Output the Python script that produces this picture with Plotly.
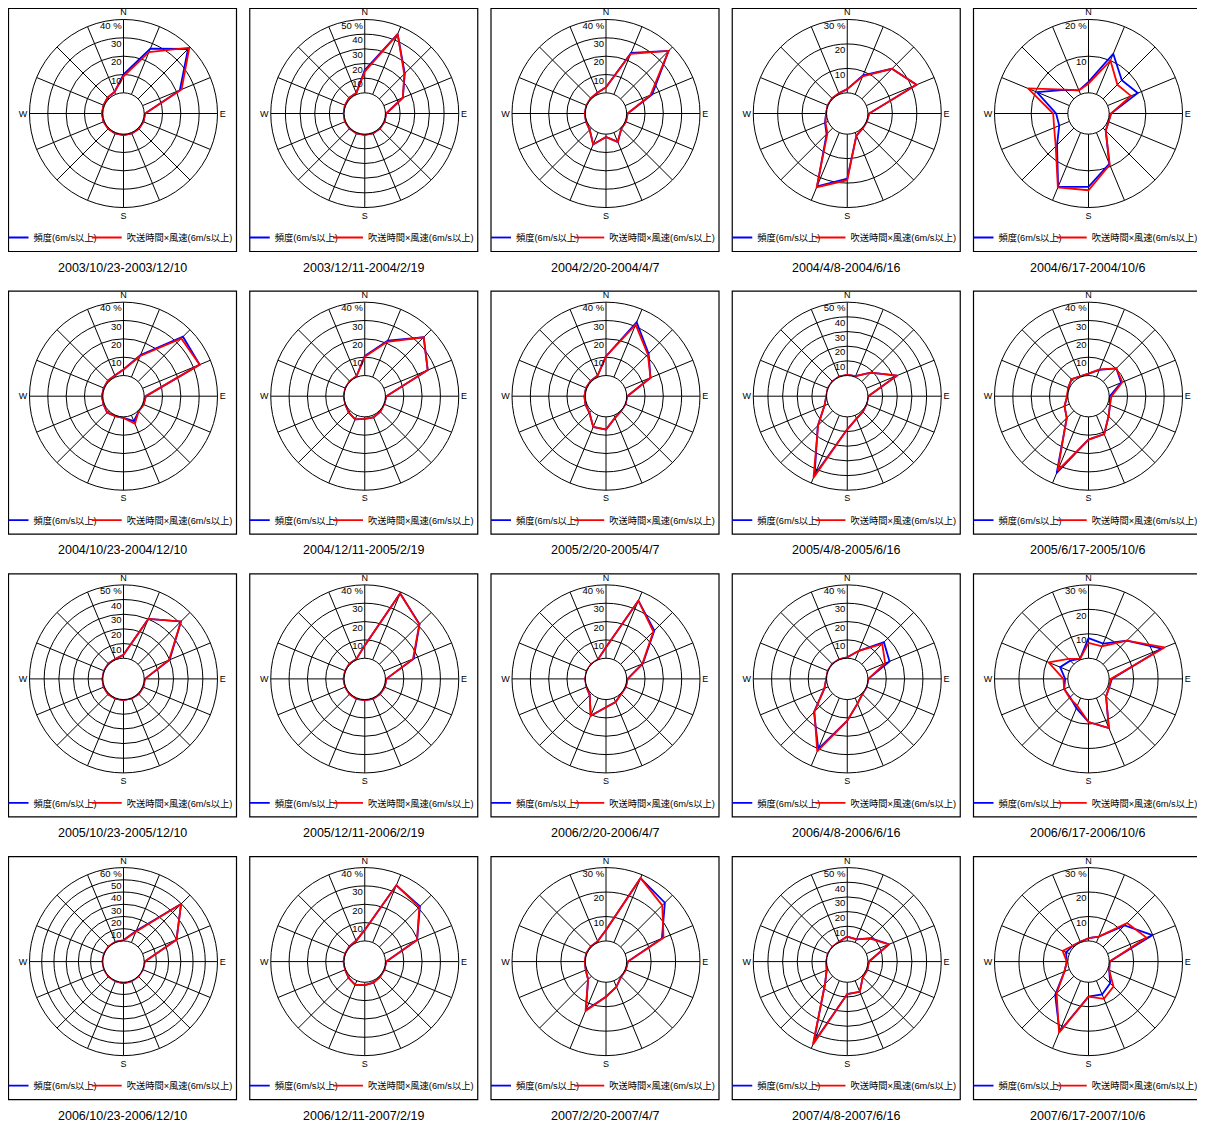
import plotly.graph_objects as go

# The page adds an 8 px body margin, so the figure is drawn 8 px in from the
# window corner; sizes/positions below are in figure pixels.
W, H = 1197, 1116

DIRS = ["N", "NNE", "NE", "ENE", "E", "ESE", "SE", "SSE",
        "S", "SSW", "SW", "WSW", "W", "WNW", "NW", "NNW"]
COMPASS = {"N": "N", "E": "E", "S": "S", "W": "W"}

NAME_FREQ = "頻度(6m/s以上)"
NAME_PROD = "吹送時間×風速(6m/s以上)"

PERIODS = [
    "2003/10/23-2003/12/10", "2003/12/11-2004/2/19", "2004/2/20-2004/4/7",
    "2004/4/8-2004/6/16", "2004/6/17-2004/10/6",
    "2004/10/23-2004/12/10", "2004/12/11-2005/2/19", "2005/2/20-2005/4/7",
    "2005/4/8-2005/6/16", "2005/6/17-2005/10/6",
    "2005/10/23-2005/12/10", "2005/12/11-2006/2/19", "2006/2/20-2006/4/7",
    "2006/4/8-2006/6/16", "2006/6/17-2006/10/6",
    "2006/10/23-2006/12/10", "2006/12/11-2007/2/19", "2007/2/20-2007/4/7",
    "2007/4/8-2007/6/16", "2007/6/17-2007/10/6",
]

RMAX = [40, 50, 40, 30, 20,
        40, 40, 40, 50, 40,
        50, 40, 40, 40, 30,
        60, 40, 30, 50, 30]

# blue: 頻度(6m/s以上) [%], red: 吹送時間×風速(6m/s以上) [%], order = DIRS
freq_01 = [10, 27, 38.5, 22, 0.5, 0.5, 0.5, 0.5, 0.5, 0.5, 0.5, 0.5, 0.5, 0.5, 1, 1.5]
prod_01 = [9, 25, 39.5, 23, 0.5, 0.5, 0.5, 0.5, 0.5, 0.5, 0.5, 0.5, 0.5, 0.5, 1, 1.5]
freq_02 = [15.5, 44.5, 24.5, 14, 0.5, 0.5, 0.5, 0.5, 0.5, 0.5, 0.5, 0.5, 0.3, 0.5, 1, 1]
prod_02 = [14.5, 44.5, 24, 14, 0.5, 0.5, 0.5, 0.5, 0.5, 0.5, 0.5, 0.5, 0.3, 0.5, 1, 1]
freq_03 = [3, 24.5, 37, 16, 0.5, 0.5, 0.5, 5.5, 1.5, 7, 1.3, 0.5, 0.3, 0.3, 0.5, 1]
prod_03 = [3, 24, 37, 15, 0.5, 0.5, 0.5, 5.5, 1.5, 7, 1.3, 0.5, 0.3, 0.3, 0.5, 1]
freq_04 = [1.5, 8.4, 17.4, 22.2, 0.5, 0.2, 0.3, 1.3, 18.2, 23.8, 3.5, 1.4, 0.2, 0.2, 0.3, 0.5]
prod_04 = [1.5, 8, 17.4, 22.2, 0.5, 0.2, 0.3, 1.3, 18.8, 24.2, 3, 1.2, 0.2, 0.2, 0.3, 0.5]
freq_05 = [3, 12, 7.2, 8.9, 0.5, 0.3, 1, 9.2, 14.4, 16, 6.5, 3, 3.2, 9.6, 3.5, 1.2]
prod_05 = [2.5, 10, 5.5, 6.9, 0.5, 0.3, 1, 9.5, 15.3, 16.2, 7, 4.5, 4, 12.2, 3.6, 1.2]
freq_06 = [3.3, 13, 34.6, 33.7, 0.9, 0.6, 0.4, 3.5, 0.6, 0.5, 1.3, 0.5, 0.5, 0.4, 0.7, 1]
prod_06 = [3.3, 12.5, 33.3, 33.7, 0.9, 0.6, 0.4, 5, 0.6, 0.5, 1.3, 0.5, 0.5, 0.4, 0.7, 1]
freq_07 = [10.6, 21.5, 34.2, 25.9, 0.5, 0.2, 0.7, 1.2, 1.1, 2.4, 1.2, 0.2, 0.2, 0.2, 0.3, 0.5]
prod_07 = [10.2, 20.8, 34.2, 25.9, 0.5, 0.2, 0.7, 1.2, 1.1, 2.4, 1.2, 0.2, 0.2, 0.2, 0.3, 0.5]
freq_08 = [10.5, 32.4, 21.6, 15, 0.3, 0.2, 0.2, 1.5, 6.9, 6.9, 1.5, 0.8, 0.5, 0.5, 0.5, 0.8]
prod_08 = [10.5, 31, 21, 15, 0.3, 0.2, 0.2, 1.5, 6.9, 6.9, 1.5, 0.8, 0.5, 0.5, 0.5, 0.8]
freq_09 = [0.5, 0.7, 8.6, 22.7, 0.2, 0.2, 0.9, 2.5, 8.5, 44, 14.3, 2.7, 0.2, 0.2, 0.2, 0.3]
prod_09 = [0.5, 0.7, 8.6, 22.7, 0.2, 0.2, 0.9, 2.5, 8.5, 46, 14, 2.7, 0.2, 0.2, 0.2, 0.3]
freq_10 = [1, 4.3, 10.2, 8, 0.3, 1.4, 4.2, 11.1, 12.4, 34, 5.5, 2.9, 0.2, 0.7, 1.8, 0.5]
prod_10 = [1, 4.6, 10.2, 8.7, 1.3, 1.4, 4.2, 11.1, 12.4, 32.7, 5.5, 2.9, 0.5, 0.7, 1.8, 0.5]
freq_11 = [2.3, 30.2, 41.3, 20, 0.5, 0.5, 0.5, 0.3, 0.3, 0.5, 0.7, 0.5, 0.3, 0.3, 0.5, 0.5]
prod_11 = [2.3, 30.2, 41.3, 19.5, 0.5, 0.5, 0.5, 0.3, 0.3, 0.5, 0.7, 0.5, 0.3, 0.3, 0.5, 0.5]
freq_12 = [7, 39.2, 31, 17.6, 0.5, 0.5, 0.5, 0.5, 0.3, 0.5, 0.5, 0.3, 0.3, 0.3, 0.5, 0.5]
prod_12 = [7, 39.2, 30.8, 17.2, 0.5, 0.5, 0.5, 0.5, 0.3, 0.5, 0.5, 0.3, 0.3, 0.3, 0.5, 0.5]
freq_13 = [6, 34.9, 26, 10.4, 0.5, 0.4, 0.4, 2.4, 4.2, 10.5, 1.3, 0.2, 0.1, 0.1, 0.2, 0.2]
prod_13 = [6, 34.9, 25.3, 10.2, 0.5, 0.4, 0.4, 2.4, 4.2, 10.5, 1.3, 0.2, 0.1, 0.1, 0.2, 0.2]
freq_14 = [0.5, 5.3, 17, 13.7, 0.2, 0.2, 0.4, 3.3, 11.5, 30, 14.4, 2.2, 0.2, 0.2, 0.3, 0.3]
prod_14 = [0.5, 5.3, 15.7, 11.1, 0.2, 0.2, 0.4, 3.3, 11.5, 31.5, 14, 2.2, 0.2, 0.2, 0.3, 0.3]
freq_15 = [8.2, 7.2, 13.7, 24, 1.1, 0.7, 1.7, 13.3, 9.2, 4.5, 2.2, 2.3, 1.1, 4.1, 2.1, 0.5]
prod_15 = [6.3, 6, 13.7, 25.2, 0.7, 0.7, 1.7, 13.3, 9.2, 3.5, 2.5, 2.3, 1.8, 9.2, 3.1, 0.5]
freq_16 = [0.5, 10.4, 49.7, 30, 0.5, 0.3, 0.3, 0.5, 0.8, 0.5, 0.5, 0.3, 0.3, 0.3, 0.5, 0.5]
prod_16 = [0.5, 9.5, 49.7, 30, 0.5, 0.3, 0.3, 0.5, 0.8, 0.5, 0.5, 0.3, 0.3, 0.3, 0.5, 0.5]
freq_17 = [6, 33.8, 31.3, 19.6, 0.5, 0.3, 0.5, 1.2, 1.5, 2.4, 1.2, 0.3, 0.3, 0.3, 0.5, 1]
prod_17 = [6, 33.8, 30.8, 19.6, 0.5, 0.3, 0.5, 1.2, 1.5, 2.4, 1.2, 0.3, 0.3, 0.3, 0.5, 1]
freq_18 = [4.5, 28.5, 25.6, 16.3, 0.5, 0.3, 0.3, 2.7, 5.9, 13, 1.9, 0.5, 0.2, 0.3, 0.3, 0.5]
prod_18 = [4.5, 28.5, 24.1, 17, 0.5, 0.3, 0.3, 2.7, 5.9, 13.4, 1.9, 0.5, 0.2, 0.3, 0.3, 0.5]
freq_19 = [3, 2.3, 8.5, 16.8, 0.7, 0.7, 0.9, 8.2, 8, 46, 7.3, 1.1, 0.2, 0.2, 0.2, 0.5]
prod_19 = [3, 2.3, 8, 16.5, 0.7, 0.7, 0.9, 8.2, 8, 47, 7.3, 1.1, 0.2, 0.2, 0.2, 0.5]
freq_20 = [1.1, 2.6, 12.5, 19.8, 0.2, 0.7, 4.1, 6.1, 5.9, 22.5, 10.8, 2.2, 0.4, 1.5, 0.7, 0.3]
prod_20 = [1.1, 2.6, 13.9, 17.2, 0.2, 0.7, 6, 8, 5.9, 23, 10, 2.2, 0.4, 3, 0.7, 0.3]

FREQ = [freq_01, freq_02, freq_03, freq_04, freq_05, freq_06, freq_07, freq_08,
        freq_09, freq_10, freq_11, freq_12, freq_13, freq_14, freq_15, freq_16,
        freq_17, freq_18, freq_19, freq_20]
PROD = [prod_01, prod_02, prod_03, prod_04, prod_05, prod_06, prod_07, prod_08,
        prod_09, prod_10, prod_11, prod_12, prod_13, prod_14, prod_15, prod_16,
        prod_17, prod_18, prod_19, prod_20]

FONT = "Liberation Sans, Noto Sans CJK JP, sans-serif"
LEG_FONT = "Liberation Sans Narrow, Liberation Sans, Noto Sans CJK JP, sans-serif"

fig = go.Figure()
layout = {}
shapes = []
annotations = []

COL_PITCH, ROW_PITCH = 241.25, 282.7
BOX_W, BOX_H = 228, 243
R = 94

for i in range(20):
    row, col = divmod(i, 5)
    bl = 0.5 + COL_PITCH * col
    bt = 0.5 + ROW_PITCH * row
    cx, cy = bl + 115, bt + 105
    pid = "polar" if i == 0 else f"polar{i + 1}"
    lid = "legend" if i == 0 else f"legend{i + 1}"

    for name, vals, color in ((NAME_FREQ, FREQ[i], "#0000ff"),
                              (NAME_PROD, PROD[i], "#ff0000")):
        fig.add_trace(go.Scatterpolar(
            r=vals + [vals[0]], theta=DIRS + [DIRS[0]], mode="lines",
            line=dict(color=color, width=1.8), name=name,
            subplot=pid, legend=lid, showlegend=True))

    rmax = RMAX[i]
    tv = [0] + list(range(10, rmax + 1, 10))
    # leading line break drops each label just below its ring, as in the original
    tt = [""] + ["<br>" + str(v) for v in tv[1:-1]] + [f"<br>{tv[-1]} %"]
    layout[pid] = dict(
        domain=dict(x=[(cx - R) / W, (cx + R) / W],
                    y=[1 - (cy + R) / H, 1 - (cy - R) / H]),
        hole=0.22,
        bgcolor="white",
        angularaxis=dict(
            type="category", categoryorder="array", categoryarray=DIRS,
            rotation=90, direction="clockwise",
            tickmode="array", tickvals=DIRS,
            ticktext=[COMPASS.get(d, "") for d in DIRS],
            ticks="", showgrid=True, gridcolor="black", gridwidth=1,
            showline=True, linecolor="black", linewidth=1,
            tickfont=dict(size=9, color="black", family=FONT)),
        radialaxis=dict(
            range=[0, rmax], tickmode="array", tickvals=tv, ticktext=tt,
            angle=90, side="counterclockwise", tickangle=90, ticks="",
            showline=False, showgrid=True, gridcolor="black", gridwidth=1,
            tickfont=dict(size=9.5, color="black", family=FONT)),
    )
    layout[lid] = dict(
        x=bl / W, y=1 - (bt + 229) / H, xanchor="left", yanchor="middle",
        orientation="h", bgcolor="rgba(0,0,0,0)", borderwidth=0,
        itemwidth=30, tracegroupgap=0, indentation=-15,
        font=dict(size=9.25, color="black", family=LEG_FONT))

    shapes.append(dict(type="rect", xref="paper", yref="paper",
                       x0=bl / W, x1=(bl + BOX_W) / W,
                       y0=1 - (bt + BOX_H) / H, y1=1 - bt / H,
                       line=dict(color="black", width=1.2), layer="below"))
    annotations.append(dict(xref="paper", yref="paper", x=(bl + 114) / W,
                            y=1 - (bt + 259) / H, text=PERIODS[i],
                            showarrow=False, xanchor="center", yanchor="middle",
                            font=dict(size=12.5, color="black", family=FONT)))

fig.update_layout(
    width=W, height=H, margin=dict(l=0, r=0, t=0, b=0),
    paper_bgcolor="white", plot_bgcolor="white",
    shapes=shapes, annotations=annotations,
    font=dict(family=FONT, color="black"),
    **layout)

fig.write_html("out.html")
